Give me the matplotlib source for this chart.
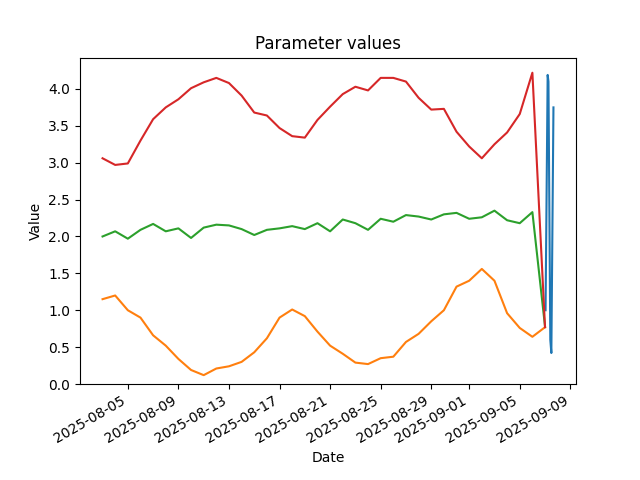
import numpy as np
import pandas as pd
import matplotlib
matplotlib.use("Agg")
import matplotlib.pyplot as plt

# daily parameter values, 2025-08-03 .. 2025-09-07
days = pd.date_range("2025-08-03", "2025-09-07", freq="D")

param_b = [1.15, 1.20, 1.00, 0.90, 0.66, 0.52, 0.34, 0.19, 0.12, 0.21,
           0.24, 0.30, 0.43, 0.62, 0.90, 1.01, 0.92, 0.71, 0.52, 0.41,
           0.29, 0.27, 0.35, 0.37, 0.57, 0.68, 0.85, 1.00, 1.32, 1.40,
           1.56, 1.40, 0.96, 0.76, 0.64, 0.77]
param_c = [2.00, 2.07, 1.97, 2.09, 2.17, 2.07, 2.11, 1.98, 2.12, 2.16,
           2.15, 2.10, 2.02, 2.09, 2.11, 2.14, 2.10, 2.18, 2.07, 2.23,
           2.18, 2.09, 2.24, 2.20, 2.29, 2.27, 2.23, 2.30, 2.32, 2.24,
           2.26, 2.35, 2.22, 2.18, 2.33, 0.78]
param_d = [3.06, 2.97, 2.99, 3.30, 3.59, 3.75, 3.86, 4.01, 4.09, 4.15,
           4.08, 3.91, 3.68, 3.64, 3.47, 3.36, 3.34, 3.58, 3.76, 3.93,
           4.03, 3.98, 4.15, 4.15, 4.10, 3.88, 3.72, 3.73, 3.42, 3.22,
           3.06, 3.25, 3.41, 3.66, 4.22, 0.77]

# the last parameter only has a few readings on 2025-09-07
times_a = pd.to_datetime(["2025-09-07 01:00", "2025-09-07 05:00",
                          "2025-09-07 06:30", "2025-09-07 10:00",
                          "2025-09-07 12:00", "2025-09-07 16:00"])
param_a = [1.00, 4.19, 4.10, 0.60, 0.42, 3.75]

fig, ax = plt.subplots()
ax.plot(times_a, param_a)
ax.plot(days, param_b)
ax.plot(days, param_c)
ax.plot(days, param_d)
ax.set_ylim(bottom=0)
ax.set_title("Parameter values")
ax.set_xlabel("Date")
ax.set_ylabel("Value")
fig.autofmt_xdate()
plt.savefig("out.png")
